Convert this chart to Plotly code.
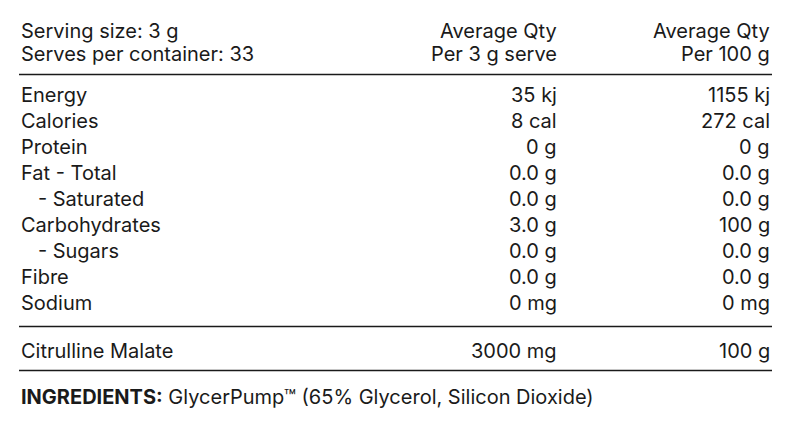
import plotly.graph_objects as go

header_left = ["Serving size: 3 g", "Serves per container: 33"]
header_col2 = ["Average Qty", "Per 3 g serve"]
header_col3 = ["Average Qty", "Per 100 g"]
nutrients = ["Energy", "Calories", "Protein", "Fat - Total", "   - Saturated",
             "Carbohydrates", "   - Sugars", "Fibre", "Sodium"]
per_serve = ["35 kj", "8 cal", "0 g", "0.0 g", "0.0 g", "3.0 g", "0.0 g", "0.0 g", "0 mg"]
per_100g = ["1155 kj", "272 cal", "0 g", "0.0 g", "0.0 g", "100 g", "0.0 g", "0.0 g", "0 mg"]
extra = ["Citrulline Malate"]
extra_serve = ["3000 mg"]
extra_100g = ["100 g"]
ingredients = "<b>INGREDIENTS:</b> GlycerPump™ (65% Glycerol, Silicon Dioxide)"

W, H = 789, 429
DX, DY = -10, -8.5
XL, X2, X3 = 21 + DX, 558 + DX + 3, 770 + DX + 4
fig = go.Figure()
ann = []
font = dict(family="Inter, Open Sans, sans-serif", size=20, color="#1a1a1a")

def add(x, y, t, anchor):
    ann.append(dict(x=x, y=y + DY, xref="x", yref="y", text=t, showarrow=False,
                    xanchor=anchor, yanchor="middle", font=font))

for i, y in enumerate([31, 54]):
    add(XL, y, header_left[i], "left")
    add(X2, y, header_col2[i], "right")
    add(X3, y, header_col3[i], "right")
for i, n in enumerate(nutrients):
    y = 95 + i * 26.1
    add(XL, y, n.replace(" ", "&nbsp;"), "left")
    add(X2, y, per_serve[i], "right")
    add(X3, y, per_100g[i], "right")
for i, n in enumerate(extra):
    add(XL, 351, n, "left")
    add(X2, 351, extra_serve[i], "right")
    add(X3, 351, extra_100g[i], "right")
add(XL, 397, ingredients, "left")

shapes = [dict(type="line", xref="x", yref="y", x0=XL, x1=X3, y0=y + DY, y1=y + DY,
               line=dict(color="#1a1a1a", width=1.5)) for y in [75, 327, 371]]

fig.update_layout(width=W, height=H, margin=dict(l=0, r=0, t=0, b=0),
                  paper_bgcolor="white", plot_bgcolor="white",
                  xaxis=dict(range=[0, W], visible=False, fixedrange=True),
                  yaxis=dict(range=[H, 0], visible=False, fixedrange=True),
                  annotations=ann, shapes=shapes, showlegend=False)
fig.write_html("out.html", config={"displayModeBar": False})
